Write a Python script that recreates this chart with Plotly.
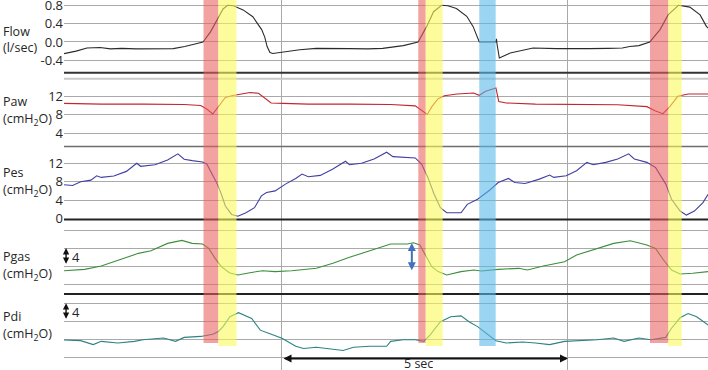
import plotly.graph_objects as go

# ---------------- data (time in s, values in panel units) ----------------
flow_t = [0.19, 0.40, 0.59, 0.82, 1.00, 1.20, 1.45, 1.70, 1.95, 2.10, 2.30, 2.48, 2.62, 2.75, 2.88,
          2.97, 3.05, 3.15, 3.32, 3.49, 3.645, 3.70, 3.74, 3.79, 3.84, 4.02, 4.31, 4.60, 4.90, 5.18,
          5.50, 5.76, 6.12, 6.38, 6.53, 6.65, 6.79, 6.90, 7.05, 7.23, 7.34, 7.41, 7.45, 7.74, 7.75,
          7.76, 7.80, 7.99, 8.39, 8.80, 9.10, 9.37, 9.70, 9.95, 10.08, 10.24, 10.43, 10.61, 10.75,
          10.93, 11.13, 11.31, 11.42, 11.45]
flow_v = [-0.255, -0.20, -0.13, -0.12, -0.15, -0.14, -0.15, -0.145, -0.15, -0.145, -0.10, -0.05, 0.00,
          0.22, 0.52, 0.72, 0.80, 0.79, 0.70, 0.55, 0.27, 0.10, -0.10, -0.23, -0.25, -0.22, -0.17,
          -0.14, -0.15, -0.145, -0.15, -0.14, -0.08, 0.00, 0.34, 0.66, 0.80, 0.79, 0.73, 0.56, 0.34,
          0.12, 0.00, 0.00, 0.07, -0.05, -0.35, -0.24, -0.13, -0.145, -0.15, -0.145, -0.14, -0.13,
          -0.10, -0.08, 0.00, 0.27, 0.59, 0.80, 0.76, 0.59, 0.34, 0.30]

paw_t = [0.19, 0.84, 1.57, 2.29, 2.58, 2.69, 2.79, 2.89, 3.01, 3.12, 3.23, 3.30, 3.44, 3.59, 3.70,
         3.81, 4.02, 4.46, 5.18, 5.90, 6.33, 6.44, 6.54, 6.62, 6.73, 6.84, 7.06, 7.35, 7.45, 7.56,
         7.71, 7.74, 7.79, 7.92, 8.43, 9.15, 9.87, 10.38, 10.53, 10.66, 10.78, 10.92, 11.10, 11.45]
paw_v = [10.4, 10.24, 10.24, 10.16, 9.94, 9.13, 8.1, 9.7, 11.7, 12.07, 12.3, 12.6, 12.74, 12.6, 11.56,
         10.5, 10.4, 10.24, 10.24, 10.16, 9.87, 8.99, 8.0, 9.7, 11.4, 12.07, 12.44, 12.66, 12.15, 13.03,
         13.76, 13.76, 10.8, 10.5, 10.24, 10.24, 10.1, 9.7, 8.76, 8.18, 9.7, 11.93, 12.44, 12.44]

pes_t = [0.19, 0.34, 0.48, 0.66, 0.76, 0.84, 1.06, 1.28, 1.46, 1.53, 1.78, 2.00, 2.18, 2.29, 2.43,
         2.61, 2.685, 2.79, 2.87, 2.94, 3.01, 3.12, 3.23, 3.37, 3.52, 3.64, 3.73, 3.88, 4.06, 4.24,
         4.35, 4.46, 4.67, 4.89, 5.11, 5.18, 5.39, 5.61, 5.83, 5.94, 6.12, 6.33, 6.44, 6.55, 6.66,
         6.77, 6.88, 7.13, 7.24, 7.42, 7.63, 7.78, 7.96, 8.07, 8.25, 8.50, 8.68, 8.75, 8.97, 9.15,
         9.33, 9.44, 9.66, 9.87, 10.06, 10.16, 10.38, 10.53, 10.71, 10.81, 10.96, 11.07, 11.21,
         11.36, 11.45]
pes_v = [7.35, 7.2, 8.0, 8.36, 9.3, 8.95, 9.24, 10.25, 12.0, 11.35, 11.7, 12.73, 14.04, 12.87, 12.58,
         12.3, 11.85, 9.3, 7.5, 5.3, 2.76, 0.95, 0.55, 1.3, 2.4, 4.95, 5.67, 6.04, 7.5, 8.73,
         9.67, 9.1, 9.38, 10.76, 12.44, 11.7, 12.0, 12.95, 14.4, 13.45, 13.3, 13.16, 11.85, 8.95, 5.3,
         2.4, 1.3, 1.3, 3.13, 4.22, 6.18, 7.85, 8.73, 7.85, 7.64, 8.58, 9.45, 8.95, 9.3, 10.4,
         12.2, 11.7, 12.2, 12.95, 14.04, 12.95, 12.2, 11.1, 7.5, 4.22, 1.67, 0.8, 1.67,
         3.5, 5.3]

pgas_t = [0.19, 0.55, 0.84, 1.20, 1.49, 1.71, 2.00, 2.25, 2.43, 2.61, 2.72, 2.83, 2.94, 3.08, 3.23,
          3.44, 3.66, 3.88, 4.17, 4.60, 4.89, 5.18, 5.47, 5.76, 5.90, 6.19, 6.30, 6.41, 6.52, 6.62,
          6.73, 6.88, 7.13, 7.35, 7.49, 7.78, 8.14, 8.29, 8.57, 8.94, 9.15, 9.51, 9.80, 10.09, 10.38,
          10.53, 10.67, 10.81, 10.96, 11.18, 11.45]
pgas_v = [3.0, 3.3, 4.04, 5.5, 6.84, 7.43, 9.04, 9.7, 9.04, 8.9, 7.94, 5.74, 3.9, 2.57, 2.06,
          2.57, 3.0, 2.8, 3.0, 3.53, 4.63, 5.96, 7.2, 8.46, 8.9, 8.9, 9.19, 8.68, 6.1, 3.9,
          2.8, 2.06, 2.8, 3.16, 2.94, 3.3, 3.53, 3.16, 4.04, 5.0, 6.47, 7.94, 9.04, 9.63, 8.68,
          7.94, 5.37, 3.16, 2.28, 2.43, 2.8]

pdi_t = [0.19, 0.48, 0.70, 0.84, 1.13, 1.42, 1.57, 1.93, 2.14, 2.29, 2.58, 2.79, 2.89, 2.97, 3.09,
         3.24, 3.47, 3.62, 3.79, 4.00, 4.24, 4.38, 4.60, 4.82, 5.07, 5.25, 5.54, 5.83, 5.90, 6.12,
         6.33, 6.48, 6.59, 6.77, 6.95, 7.13, 7.27, 7.42, 7.56, 7.74, 7.92, 8.21, 8.43, 8.68, 8.94,
         9.22, 9.51, 9.80, 9.98, 10.24, 10.45, 10.71, 10.81, 10.96, 11.10, 11.25, 11.45]
pdi_v = [3.8, 3.65, 2.77, 3.5, 3.14, 3.5, 3.87, 4.23, 3.5, 4.38, 4.6, 5.1, 5.7, 6.8, 9.0,
         9.9, 8.6, 6.0, 5.2, 4.2, 2.4, 1.9, 2.19, 1.9, 1.46, 2.19, 2.4, 2.4, 3.5, 3.87,
         3.87, 3.5, 4.96, 7.88, 8.98, 9.2, 7.88, 6.79, 5.33, 3.65, 3.14, 3.36, 3.14, 2.77, 3.5,
         3.65, 3.87, 4.23, 3.5, 4.23, 3.87, 4.38, 6.42, 8.76, 9.7, 8.98, 7.15]

# highlighted phases (s)
band_start = [2.628, 2.886, 6.383, 6.512, 7.449, 10.434, 10.754]
band_end = [2.886, 3.205, 6.512, 6.810, 7.736, 10.754, 10.988]
band_kind = ["red", "yellow", "red", "yellow", "blue", "red", "yellow"]

flow_ticks = [0.8, 0.4, 0.0, -0.4]
flow_ticktext = ["0.8", "0.4", "0.0", "-0.4"]
paw_ticks = [12, 8, 4]
pes_ticks = [12, 8, 4, 0]
pgas_grid = [0, 4, 8, 12]
pdi_grid = [0, 4, 8, 12]

# ---------------- layout helpers ----------------
W, H, L = 708, 370, 64
t_range = [0.189, 11.448]


def yrange(v1, p1, v2, p2, top, bot):
    k = (p2 - p1) / (v1 - v2)
    return [v2 - (bot - p2) / k, v1 + (p1 - top) / k]


def dom(top, bot):
    return [1 - bot / H, 1 - top / H]


def py(p):
    return 1 - p / H


GRID = "#a9a9a9"
FONT = "Open Sans"
TXT = "#262626"

panels = {
    "yaxis": dict(domain=dom(0, 72.7), range=yrange(0.8, 5.3, -0.4, 60.3, 0, 72.7),
                  tickvals=flow_ticks, ticktext=flow_ticktext, showticklabels=True),
    "yaxis2": dict(domain=dom(72.7, 146.5), range=yrange(12, 96.0, 4, 133.0, 72.7, 146.5),
                   tickvals=paw_ticks, ticktext=[str(v) for v in paw_ticks], showticklabels=True),
    "yaxis3": dict(domain=dom(146.5, 219.5), range=yrange(12, 163.3, 0, 218.8, 146.5, 219.5),
                   tickvals=pes_ticks, ticktext=[str(v) for v in pes_ticks], showticklabels=True),
    "yaxis4": dict(domain=dom(219.5, 294), range=yrange(12, 230, 0, 284.3, 219.5, 294),
                   tickvals=pgas_grid, showticklabels=False),
    "yaxis5": dict(domain=dom(294, 370), range=yrange(12, 303.3, 0, 357, 294, 370),
                   tickvals=pdi_grid, showticklabels=False),
}

fig = go.Figure()
series = [
    (flow_t, flow_v, "y", "#2b2b2b"),
    (paw_t, paw_v, "y2", "#c3262e"),
    (pes_t, pes_v, "y3", "#3f3fa3"),
    (pgas_t, pgas_v, "y4", "#3d8f3d"),
    (pdi_t, pdi_v, "y5", "#2d8282"),
]
for tx, vy, ya, col in series:
    fig.add_trace(go.Scatter(x=tx, y=vy, mode="lines", xaxis="x", yaxis=ya,
                             line=dict(color=col, width=1.1), hoverinfo="skip", showlegend=False))

shapes = []
# panel separators
for p, col, w in [(72.7, "#333333", 2), (78.7, "#c8c8c8", 2), (146.5, "#6e6e6e", 1.5),
                  (219.5, "#222222", 2), (294, "#222222", 2)]:
    shapes.append(dict(type="line", xref="paper", yref="paper", x0=0, x1=1, y0=py(p), y1=py(p),
                       line=dict(color=col, width=w), layer="above"))
band_fill = {"red": "rgba(235,95,95,0.58)", "yellow": "rgba(250,250,90,0.6)",
             "blue": "rgba(90,185,232,0.6)"}
band_bottom = {"red": 343, "yellow": 346, "blue": 346}
for s, e, k in zip(band_start, band_end, band_kind):
    shapes.append(dict(type="rect", xref="x", yref="paper", x0=s, x1=e, y0=py(band_bottom[k]), y1=1,
                       fillcolor=band_fill[k], line=dict(width=0), layer="above"))

ann = []
labels = [("Flow", 31), ("(l/sec)", 47), ("Paw", 101), ("(cmH<sub>2</sub>O)", 119),
          ("Pes", 172), ("(cmH<sub>2</sub>O)", 190), ("Pgas", 256), ("(cmH<sub>2</sub>O)", 274),
          ("Pdi", 316), ("(cmH<sub>2</sub>O)", 334)]
for txt, p in labels:
    ann.append(dict(text=txt, xref="paper", yref="paper", x=(1 - L) / (W - L), y=py(p),
                    xanchor="left", yanchor="middle", showarrow=False,
                    font=dict(family=FONT, size=12.5, color=TXT)))

# 4 cmH2O scale bars
for ya, top, bot, ty in [("y4", 8, 4.2, 6.1), ("y5", 12, 8.2, 10.1)]:
    ann.append(dict(x=0.225, y=top, ax=0.225, ay=bot, xref="x", yref=ya, axref="x", ayref=ya,
                    text="", showarrow=True, arrowhead=2, arrowside="end+start", arrowsize=0.9,
                    arrowwidth=1.4, arrowcolor="#111111", standoff=0, startstandoff=0))
    ann.append(dict(x=0.30, y=ty, xref="x", yref=ya, text="4", showarrow=False, xanchor="left",
                    yanchor="middle", font=dict(family=FONT, size=13, color=TXT)))
# blue amplitude arrow
ann.append(dict(x=6.27, y=9.1, ax=6.27, ay=2.8, xref="x", yref="y4", axref="x", ayref="y4",
                text="", showarrow=True, arrowhead=2, arrowside="end+start", arrowsize=0.8,
                arrowwidth=2, arrowcolor="#4070c0", standoff=0, startstandoff=0))
# 5 sec arrow
ann.append(dict(x=9, y=-0.35, ax=4, ay=-0.35, xref="x", yref="y5", axref="x", ayref="y5",
                text="", showarrow=True, arrowhead=2, arrowside="end+start", arrowsize=0.8,
                arrowwidth=2, arrowcolor="#111111", standoff=0, startstandoff=0))
ann.append(dict(x=6.38, y=-1.5, xref="x", yref="y5", text="5 sec", showarrow=False,
                xanchor="center", yanchor="middle", font=dict(family=FONT, size=12.5, color=TXT)))

layout = dict(
    template="none",
    width=W, height=H, autosize=False,
    margin=dict(l=L, r=0, t=0, b=0, pad=0, autoexpand=False),
    paper_bgcolor="white", plot_bgcolor="white",
    font=dict(family=FONT, color=TXT),
    xaxis=dict(range=t_range, tickvals=[4, 9], showticklabels=False, showgrid=True,
               gridcolor=GRID, gridwidth=1, zeroline=False, showline=False, ticks="",
               automargin=False),
    shapes=shapes, annotations=ann, showlegend=False,
)
for name, spec in panels.items():
    d = dict(anchor="x", showgrid=True, gridcolor=GRID, gridwidth=1, zeroline=False,
             showline=False, ticks="", automargin=False, ticklabeloverflow="allow",
             tickfont=dict(family=FONT, size=13, color=TXT))
    d.update(spec)
    layout[name] = d
fig.update_layout(**layout)
fig.write_html("out.html")
